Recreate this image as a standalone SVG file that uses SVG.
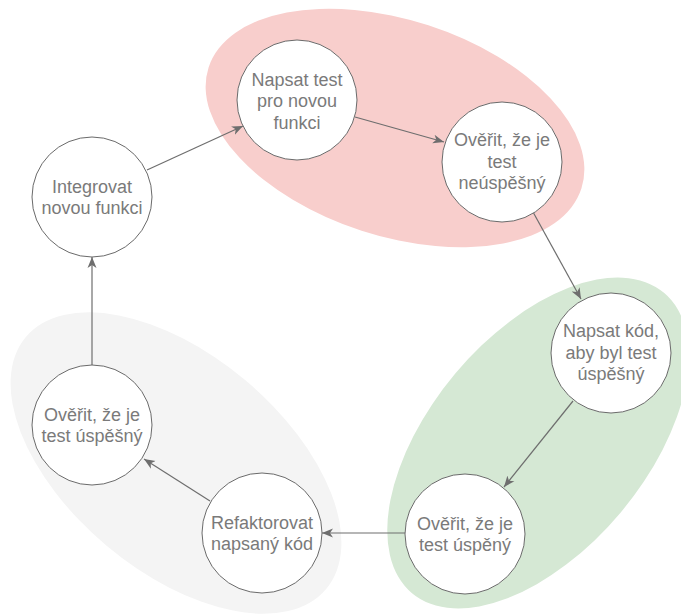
<svg xmlns="http://www.w3.org/2000/svg" width="681" height="615" viewBox="0 0 681 615">
  <style>
    .node circle { fill: #ffffff; stroke: #6a6a6a; stroke-width: 1; }
    .node text { font-family: "Liberation Sans", Arial, Helvetica, sans-serif; font-size: 18px; fill: #7a7a7a; text-anchor: middle; }
    .edge { stroke: #6e6e6e; stroke-width: 1.2; fill: none; marker-end: url(#arrow); }
  </style>
  <defs>
    <marker id="arrow" markerUnits="userSpaceOnUse" markerWidth="12" markerHeight="10" viewBox="0 0 12 10" refX="11" refY="5" orient="auto">
      <path d="M0,0.5 L11,5 L0,9.5 L3,5 Z" fill="#6e6e6e"/>
    </marker>
  </defs>

  <!-- phase backgrounds -->
  <g id="phases">
    <ellipse id="phase-red" cx="395" cy="128" rx="196" ry="108" transform="rotate(18 395 128)" fill="#f8cecc"/>
    <ellipse id="phase-green" cx="538" cy="443" rx="196" ry="108" transform="rotate(-50 538 443)" fill="#d5e8d4"/>
    <ellipse id="phase-grey" cx="176" cy="463" rx="196" ry="108" transform="rotate(40 176 463)" fill="#f4f4f4"/>
  </g>

  <!-- connectors -->
  <g id="connectors">
    <line class="edge" x1="147" y1="170" x2="243" y2="126"/>
    <line class="edge" x1="355" y1="117" x2="444" y2="142"/>
    <line class="edge" x1="533" y1="212" x2="581" y2="299"/>
    <line class="edge" x1="573" y1="401" x2="504" y2="487"/>
    <line class="edge" x1="406" y1="533" x2="322" y2="533"/>
    <line class="edge" x1="210" y1="501" x2="144" y2="459"/>
    <line class="edge" x1="92" y1="365" x2="92" y2="257"/>
  </g>

  <g id="integrovat" class="node">
    <circle cx="92" cy="197" r="60"/>
    <text x="92" y="192.5">Integrovat</text>
    <text x="92" y="214">novou funkci</text>
  </g>

  <g id="napsat-test" class="node">
    <circle cx="297" cy="100" r="60"/>
    <text x="297" y="85.5">Napsat test</text>
    <text x="297" y="107">pro novou</text>
    <text x="297" y="128.5">funkci</text>
  </g>

  <g id="overit-neuspesny" class="node">
    <circle cx="502" cy="162" r="60"/>
    <text x="502" y="146">Ověřit, že je</text>
    <text x="502" y="167.5">test</text>
    <text x="502" y="189">neúspěšný</text>
  </g>

  <g id="napsat-kod" class="node">
    <circle cx="611" cy="353" r="60"/>
    <text x="611" y="337">Napsat kód,</text>
    <text x="611" y="358.5">aby byl test</text>
    <text x="611" y="380">úspěšný</text>
  </g>

  <g id="overit-uspeny" class="node">
    <circle cx="465" cy="534" r="60"/>
    <text x="465" y="529.5">Ověřit, že je</text>
    <text x="465" y="551">test úspěný</text>
  </g>

  <g id="refaktorovat" class="node">
    <circle cx="262" cy="533" r="60"/>
    <text x="262" y="528.5">Refaktorovat</text>
    <text x="262" y="550">napsaný kód</text>
  </g>

  <g id="overit-uspesny" class="node">
    <circle cx="92" cy="425" r="60"/>
    <text x="92" y="420.5">Ověřit, že je</text>
    <text x="92" y="442">test úspěšný</text>
  </g>
</svg>
